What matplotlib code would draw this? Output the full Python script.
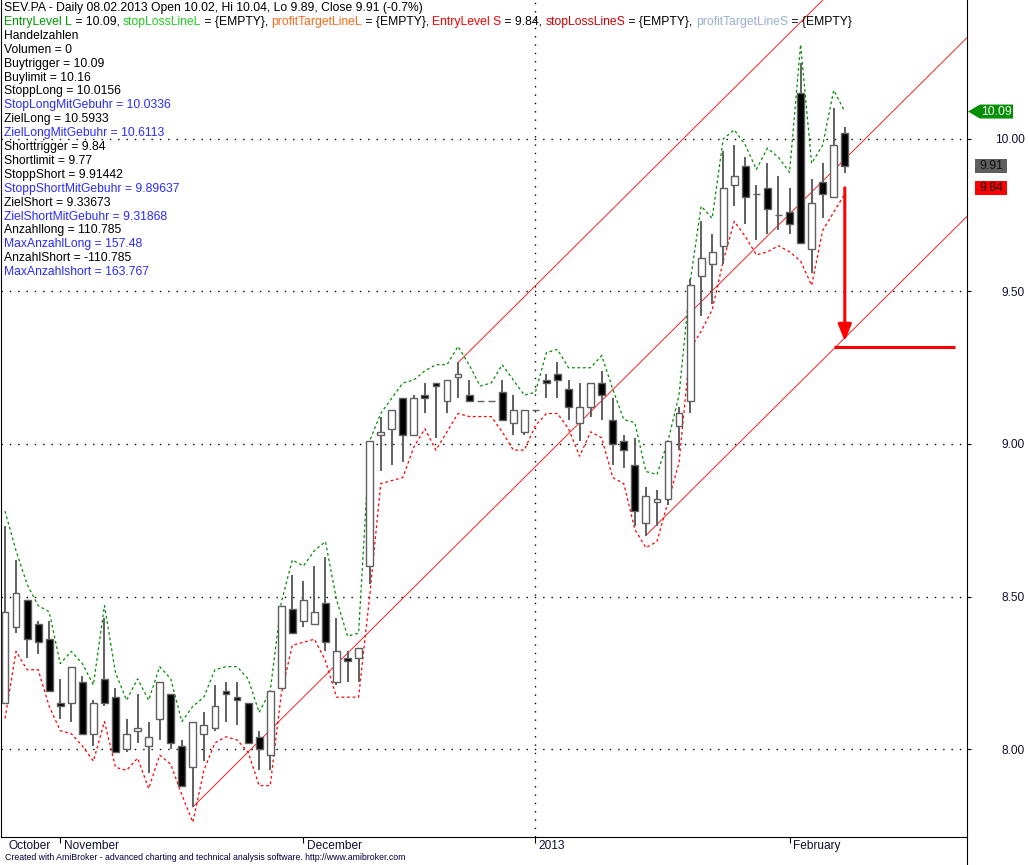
import numpy as np
import matplotlib
matplotlib.use('Agg')
import matplotlib.pyplot as plt
from matplotlib import transforms
from matplotlib.patches import Polygon, Rectangle
from matplotlib.lines import Line2D

plt.rcParams['font.family'] = ['Liberation Sans', 'DejaVu Sans']

##
# Data (SEV.PA daily, Oct 2012 - 08.02.2013)
##
opens = [8.15, 8.40, 8.49, 8.41, 8.36, 8.15, 8.15, 8.22, 8.05, 8.23,
         8.17, 8.00, 8.06, 8.01, 8.10, 8.18, 8.01, 7.94, 8.05, 8.07,
         8.19, 8.17, 8.15, 8.04, 7.98, 8.20, 8.46, 8.42, 8.41, 8.48,
         8.22, 8.30, 8.30, 8.60, 9.03, 9.05, 9.15, 9.03, 9.16, 9.20,
         9.14, 9.22, 9.16, 9.14, 9.14, 9.17, 9.07, 9.04, 9.11, 9.21,
         9.23, 9.18, 9.07, 9.12, 9.20, 9.08, 9.01, 8.93, 8.74, 8.81,
         8.82, 9.06, 9.14, 9.55, 9.59, 9.65, 9.85, 9.91, 9.82, 9.84,
         9.75, 9.76, 10.15, 9.64, 9.86, 9.81, 10.02]
highs = [8.73, 8.62, 8.49, 8.42, 8.42, 8.23, 8.27, 8.24, 8.16, 8.43,
         8.20, 8.10, 8.18, 8.09, 8.22, 8.18, 8.03, 8.09, 8.12, 8.21,
         8.22, 8.22, 8.15, 8.06, 8.19, 8.47, 8.57, 8.55, 8.60, 8.63,
         8.43, 8.32, 8.33, 9.01, 9.09, 9.11, 9.15, 9.16, 9.20, 9.20,
         9.21, 9.27, 9.21, 9.14, 9.14, 9.21, 9.16, 9.11, 9.11, 9.23,
         9.27, 9.21, 9.20, 9.20, 9.24, 9.15, 9.03, 9.02, 8.86, 8.85,
         9.01, 9.12, 9.54, 9.73, 9.69, 9.96, 9.98, 9.94, 9.85, 9.92,
         9.88, 9.84, 10.25, 9.87, 9.92, 10.10, 10.04]
lows = [8.15, 8.38, 8.30, 8.31, 8.19, 8.10, 8.09, 8.05, 8.01, 8.14,
        7.99, 7.99, 8.02, 7.92, 8.03, 8.00, 7.88, 7.81, 7.96, 8.06,
        8.09, 8.08, 8.02, 7.93, 7.93, 8.20, 8.38, 8.40, 8.41, 8.32,
        8.21, 8.22, 8.22, 8.54, 8.91, 8.93, 8.94, 9.03, 9.10, 9.02,
        9.10, 9.15, 9.14, 9.14, 9.14, 9.08, 9.03, 9.03, 9.11, 9.15,
        9.15, 9.08, 9.01, 9.09, 9.08, 8.93, 8.92, 8.73, 8.70, 8.73,
        8.80, 8.98, 9.10, 9.42, 9.46, 9.59, 9.78, 9.72, 9.67, 9.69,
        9.70, 9.69, 9.66, 9.56, 9.74, 9.81, 9.89]
closes = [8.45, 8.51, 8.36, 8.35, 8.19, 8.14, 8.27, 8.05, 8.15, 8.15,
          7.99, 8.05, 8.07, 8.04, 8.22, 8.02, 7.88, 8.09, 8.08, 8.14,
          8.18, 8.16, 8.02, 8.00, 8.19, 8.47, 8.38, 8.49, 8.45, 8.35,
          8.32, 8.29, 8.33, 9.01, 9.04, 9.11, 9.03, 9.15, 9.15, 9.19,
          9.21, 9.23, 9.14, 9.14, 9.14, 9.08, 9.11, 9.11, 9.11, 9.20,
          9.21, 9.12, 9.12, 9.20, 9.16, 9.00, 8.98, 8.78, 8.83, 8.82,
          9.01, 9.10, 9.52, 9.61, 9.63, 9.84, 9.88, 9.81, 9.82, 9.77,
          9.75, 9.72, 9.66, 9.79, 9.82, 9.98, 9.91]

# buy trigger (green) / short trigger (red) bands
buy_band = [8.78, 8.65, 8.54, 8.47, 8.45, 8.28, 8.32, 8.28, 8.21, 8.47,
            8.25, 8.16, 8.23, 8.16, 8.27, 8.23, 8.09, 8.14, 8.17, 8.26,
            8.27, 8.27, 8.23, 8.12, 8.19, 8.48, 8.62, 8.60, 8.65, 8.68,
            8.49, 8.37, 8.38, 9.01, 9.10, 9.15, 9.20, 9.21, 9.24, 9.26,
            9.26, 9.32, 9.26, 9.19, 9.20, 9.26, 9.21, 9.16, 9.17, 9.30,
            9.31, 9.25, 9.25, 9.25, 9.29, 9.18, 9.08, 9.07, 8.91, 8.90,
            9.01, 9.16, 9.53, 9.78, 9.74, 10.00, 10.03, 9.98, 9.90, 9.97,
            9.94, 9.89, 10.31, 9.92, 9.98, 10.16, 10.09]
short_band = [8.10, 8.32, 8.26, 8.26, 8.14, 8.06, 8.05, 8.01, 7.96, 8.09,
              7.94, 7.93, 7.97, 7.87, 7.98, 7.95, 7.85, 7.76, 7.93, 8.02,
              8.04, 8.03, 7.99, 7.88, 7.88, 8.18, 8.34, 8.35, 8.36, 8.29,
              8.17, 8.17, 8.17, 8.50, 8.87, 8.88, 8.89, 8.99, 9.05, 8.98,
              9.04, 9.10, 9.09, 9.09, 9.09, 9.04, 8.98, 8.98, 9.06, 9.10,
              9.10, 9.05, 8.96, 9.04, 9.02, 8.89, 8.87, 8.72, 8.66, 8.68,
              8.81, 8.94, 9.31, 9.37, 9.44, 9.60, 9.73, 9.68, 9.62, 9.63,
              9.65, 9.63, 9.60, 9.52, 9.70, 9.76, 9.82]

# parallel trend lines: start bar, start price, slope per bar
trend_start_bar = [17, 41, 58]
trend_start_price = [7.81, 9.267, 8.70]
trend_slope = 0.0360

month_pos = [0, 5, 27, 48, 71]
month_names = ['October', 'November', 'December', '2013', 'February']
year_break = 48

price_ticks = [8.00, 8.50, 9.00, 9.50, 10.00]

entry_long = 10.09
entry_short = 9.84
last_close = 9.91
ziel_short = 9.33673
ziel_short_geb = 9.31868

title = 'SEV.PA - Daily 08.02.2013 Open 10.02, Hi 10.04, Lo 9.89, Close 9.91 (-0.7%)'
legend_parts = [('EntryLevel L', '#009a00'), (' = 10.09, ', 'black'),
                ('stopLossLineL', '#22cc22'), (' = {EMPTY}, ', 'black'),
                ('profitTargetLineL', '#ff6a1a'), (' = {EMPTY}, ', 'black'),
                ('EntryLevel S', '#ff0000'), (' = 9.84, ', 'black'),
                ('stopLossLineS', '#d00000'), (' = {EMPTY}, ', 'black'),
                ('profitTargetLineS', '#9aaed0'), (' = {EMPTY}', 'black')]
info_lines = [('Handelzahlen', 'k'), ('Volumen = 0', 'k'),
              ('Buytrigger = 10.09', 'k'), ('Buylimit = 10.16', 'k'),
              ('StoppLong = 10.0156', 'k'), ('StopLongMitGebuhr = 10.0336', 'b'),
              ('ZielLong = 10.5933', 'k'), ('ZielLongMitGebuhr = 10.6113', 'b'),
              ('Shorttrigger = 9.84', 'k'), ('Shortlimit = 9.77', 'k'),
              ('StoppShort = 9.91442', 'k'), ('StoppShortMitGebuhr = 9.89637', 'b'),
              ('ZielShort = 9.33673', 'k'), ('ZielShortMitGebuhr = 9.31868', 'b'),
              ('Anzahllong = 110.785', 'k'), ('MaxAnzahlLong = 157.48', 'b'),
              ('AnzahlShort = -110.785', 'k'), ('MaxAnzahlshort = 163.767', 'b')]

##
# Figure / axes
##
W, H = 1028, 865
fig = plt.figure(figsize=(W / 100, H / 100), dpi=100)
fig.patch.set_facecolor('white')
ax = fig.add_axes([1 / W, (H - 837) / H, 966 / W, 837 / H])
ax.set_xlim(-0.362, 87.06)
ax.set_ylim(7.7115, 10.4557)

bars = np.arange(len(opens))
o = np.array(opens); c = np.array(closes)
hi = np.array(highs); lo = np.array(lows)

# grid
for p in price_ticks:
    ax.axhline(p, color='black', lw=1.0, linestyle=(0, (1, 5)), zorder=0)
ax.axvline(year_break, color='black', lw=1.0, linestyle=(0, (1, 5)), zorder=0)

# trend channel
xe = ax.get_xlim()[1]
for b0, p0 in zip(trend_start_bar, trend_start_price):
    ax.plot([b0, xe], [p0, p0 + trend_slope * (xe - b0)], color='#ff0000', lw=0.6, zorder=1)

# bands
ax.plot(bars, buy_band, color='#008c00', lw=0.9, dashes=(2.2, 2.2), zorder=2)
ax.plot(bars, short_band, color='#ff0000', lw=0.9, dashes=(2.2, 2.2), zorder=2)

# candles
gray = '#606060'
ax.vlines(bars, lo, hi, color=gray, lw=1.4, zorder=3)
up = c >= o
ax.bar(bars, np.abs(c - o), bottom=np.minimum(o, c), width=0.62,
       color=np.where(up, 'white', 'black'), edgecolor=gray, linewidth=1.0, zorder=4)

# short signal arrow and target
last = bars[-1]
ax.annotate('', xy=(last, ziel_short), xytext=(last, entry_short),
            arrowprops=dict(arrowstyle='-|>,head_length=1.0,head_width=0.4',
                            color='#ff0000', lw=2.2, shrinkA=0, shrinkB=0), zorder=5)
ax.hlines(ziel_short_geb, last - 1, last + 10, color='#ff0000', lw=2.2, zorder=5)

##
# Axes styling
##
ax.spines['top'].set_visible(False)
for s in ['left', 'right', 'bottom']:
    ax.spines[s].set_linewidth(0.8)
fig.add_artist(Line2D([967 / W, 967 / W], [0, (H - 837) / H], color='black', lw=0.8))

ax.yaxis.tick_right()
ax.set_yticks(price_ticks)
ax.set_yticklabels(['%.2f' % p for p in price_ticks])
ax.tick_params(axis='y', direction='out', length=3, width=0.8, pad=38.8,
               labelsize=8.6, labelcolor='#101030')
plt.setp(ax.get_yticklabels(), ha='right')

ax.set_xticks(month_pos[1:])
ax.set_xticklabels(month_names[1:])
ax.set_xticks([month_pos[0]], minor=True)
ax.set_xticklabels([month_names[0]], minor=True)
ax.tick_params(axis='x', which='major', direction='out', length=4, width=0.8, pad=-2,
               labelsize=8.6, labelcolor='#101030')
ax.tick_params(axis='x', which='minor', length=0, pad=2, labelsize=8.6, labelcolor='#101030')
shift = transforms.ScaledTranslation(3.5 / 100, 0, fig.dpi_scale_trans)
for lbl in ax.get_xticklabels() + ax.get_xticklabels(minor=True):
    lbl.set_ha('left')
    lbl.set_transform(lbl.get_transform() + shift)

# value boxes on the price scale
ppu = 837 / (10.4557 - 7.7115)  # pixels per price unit
h = 7 / ppu
tr = transforms.blended_transform_factory(fig.transFigure, ax.transData)
fig.add_artist(Polygon([(968 / W, entry_long), (980 / W, entry_long + h), (1013 / W, entry_long + h),
                        (1013 / W, entry_long - h), (980 / W, entry_long - h)],
                       closed=True, facecolor='#009000', edgecolor='none', transform=tr))
fig.text(996 / W, entry_long, '%.2f' % entry_long, transform=tr, color='white', size=8.8,
         ha='center', va='center')
for val, col in [(last_close, '#5e5e5e'), (entry_short, '#ff0000')]:
    fig.add_artist(Rectangle((975 / W, val - h), 32 / W, 2 * h, facecolor=col,
                             edgecolor='none', transform=tr))
    fig.text(991 / W, val, '%.2f' % val, transform=tr, color='#111111', size=8.8,
             ha='center', va='center')

##
# Title / info texts
##
fs = 8.7
step = 13.9
fig.text(4 / W, 1 - 8 / H, title, size=fs, color='black', va='center')
renderer = fig.canvas.get_renderer()


def text_width(s):
    # width of s including trailing spaces (measured against a marker char)
    t1 = fig.text(0, 0, s + '|', size=fs)
    t2 = fig.text(0, 0, '|', size=fs)
    w = t1.get_window_extent(renderer).width - t2.get_window_extent(renderer).width
    t1.remove(); t2.remove()
    return w


prefix = ''
for txt, col in legend_parts:
    xp = 4 + (text_width(prefix) if prefix else 0)
    fig.text(xp / W, 1 - (8 + step) / H, txt, size=fs, color=col, va='center')
    prefix += txt
for i, (txt, col) in enumerate(info_lines):
    fig.text(4 / W, 1 - (8 + step * (i + 2)) / H, txt, size=fs,
             color='black' if col == 'k' else '#2b2bff', va='center')

fig.text(5 / W, 1 - 858 / H,
         'Created with AmiBroker - advanced charting and technical analysis software. http://www.amibroker.com',
         size=6.3, color='#000040', va='center')

fig.savefig('out.png', dpi=100, facecolor='white')
